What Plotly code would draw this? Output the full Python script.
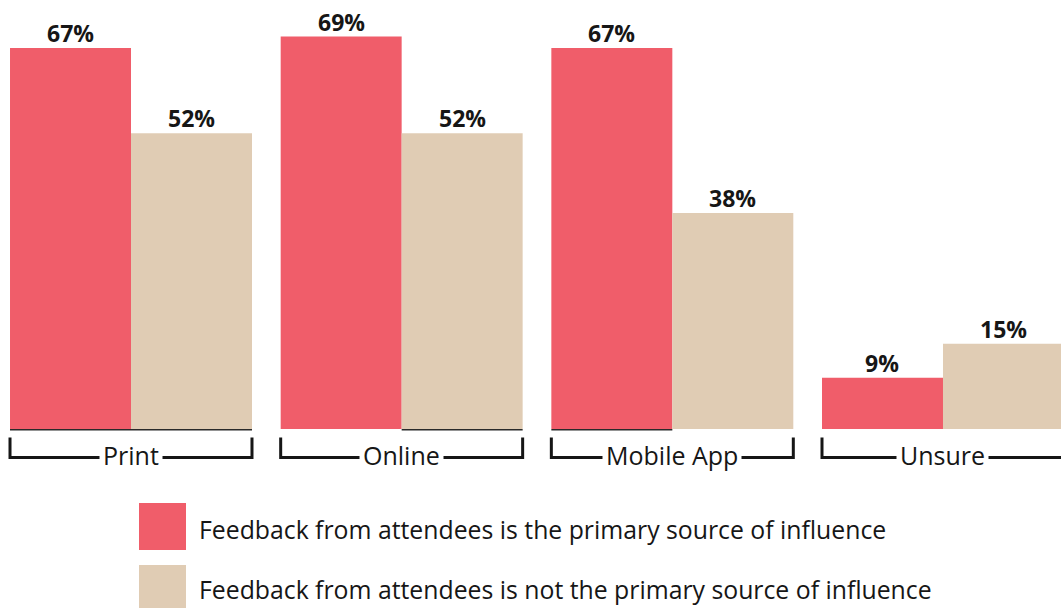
import plotly.graph_objects as go

# ---- data -------------------------------------------------------------
categories = ["Print", "Online", "Mobile App", "Unsure"]
primary = [67, 69, 67, 9]        # feedback is the primary source of influence
not_primary = [52, 52, 38, 15]   # feedback is not the primary source of influence
series_names = [
    "Feedback from attendees is the primary source of influence",
    "Feedback from attendees is not the primary source of influence",
]
# which bars carry a thin dark base rule (category index, series index)
base_rules = [(0, 0), (0, 1), (1, 1), (2, 0)]

# ---- style ------------------------------------------------------------
RED = "#F05D6A"
TAN = "#E0CCB4"
INK = "#161616"
FONT = "Open Sans"

W, H = 1061, 608
MARGIN_B = 134
PLOT_H = H - MARGIN_B
X_RANGE = [-0.484, 3.436]
Y_RANGE = [-7.913, 75.435]
HALF = 0.447            # width of one bar in category units
BAR_PX = 121            # same width in pixels, for centring value labels

x_idx = list(range(len(categories)))

fig = go.Figure()
shapes = []
annotations = []

for si, (vals, color, name) in enumerate([(primary, RED, series_names[0]),
                                          (not_primary, TAN, series_names[1])]):
    fig.add_trace(go.Bar(
        x=x_idx, y=vals, name=name,
        marker=dict(color=color, line=dict(width=0)),
        showlegend=False,
    ))
    # value label over each bar
    offset = (si - 0.5) * BAR_PX
    for ci, v in enumerate(vals):
        annotations.append(dict(x=ci, y=v, xref="x", yref="y",
                                xshift=offset, yshift=-2,
                                text=f"<b>{v}%</b>", showarrow=False,
                                xanchor="center", yanchor="bottom", borderpad=0,
                                font=dict(family=FONT, size=23, color=INK)))

# thin rules under selected bars
for ci, si in base_rules:
    x0 = ci - HALF + si * HALF
    shapes.append(dict(type="line", xref="x", yref="y",
                       x0=x0, x1=x0 + HALF, y0=-0.12, y1=-0.12,
                       line=dict(color="#2a2a2a", width=1.5)))

# bracket under each category with its label
for ci, cat in enumerate(categories):
    xl, xr = ci - HALF, ci + HALF
    top, bot = -1.49, -5.01
    shapes.append(dict(type="path", xref="x", yref="y",
                       path=f"M {xl},{top} L {xl},{bot} L {xr},{bot} L {xr},{top}",
                       line=dict(color=INK, width=3)))
    annotations.append(dict(x=ci, y=bot, xref="x", yref="y", yshift=2,
                            text=cat, showarrow=False,
                            yanchor="middle", xanchor="center",
                            bgcolor="white", borderpad=3,
                            font=dict(family=FONT, size=25, color=INK)))


def py(px):
    """pixel row -> paper y"""
    return (PLOT_H - px) / PLOT_H


def pxx(px):
    return px / W


# legend swatches and labels
for row, (color, name) in enumerate([(RED, series_names[0]), (TAN, series_names[1])]):
    top = 503 + row * 62
    shapes.append(dict(type="rect", xref="paper", yref="paper",
                       x0=pxx(139), x1=pxx(186), y0=py(top), y1=py(top + 47),
                       fillcolor=color, line=dict(width=0)))
    annotations.append(dict(x=pxx(197), y=py(top + 26 - row * 2), xref="paper", yref="paper",
                            text=name, showarrow=False,
                            xanchor="left", yanchor="middle",
                            font=dict(family=FONT, size=24.8, color=INK)))

fig.update_layout(
    width=W, height=H,
    margin=dict(l=0, r=0, t=0, b=MARGIN_B),
    barmode="group", bargap=0.106, bargroupgap=0,
    plot_bgcolor="white", paper_bgcolor="white",
    xaxis=dict(range=X_RANGE, visible=False, fixedrange=True),
    yaxis=dict(range=Y_RANGE, visible=False, fixedrange=True),
    shapes=shapes, annotations=annotations,
    font=dict(family=FONT, color=INK),
)

fig.write_html("out.html")
